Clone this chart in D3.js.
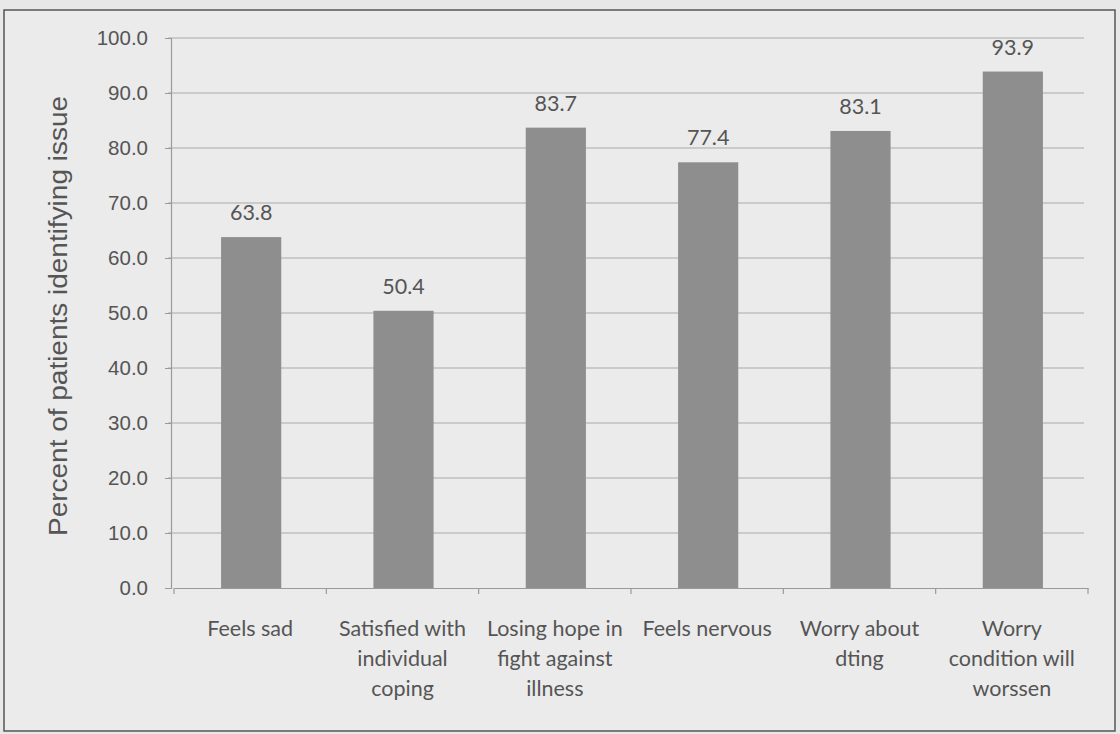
<!DOCTYPE html>
<html>
<head>
<meta charset="utf-8">
<script src="https://cdn.jsdelivr.net/npm/d3@7"></script>
<style>
  html, body { margin: 0; padding: 0; background: #e8e8e8; }
  svg { display: block; }
</style>
</head>
<body>
<svg id="chart"></svg>
<script>
const categories = [
  ["Feels sad"],
  ["Satisfied with", "individual", "coping"],
  ["Losing hope in", "fight against", "illness"],
  ["Feels nervous"],
  ["Worry about", "dting"],
  ["Worry", "condition will", "worssen"]
];
const values = [63.8, 50.4, 83.7, 77.4, 83.1, 93.9];
const yTicks = [0, 10, 20, 30, 40, 50, 60, 70, 80, 90, 100];
const yTitle = "Percent of patients identifying issue";

const width = 1120, height = 734;
const margin = { left: 174, right: 32, top: 38, bottom: 146 };

const svg = d3.select("#chart").attr("width", width).attr("height", height);

// background + frame
svg.append("rect").attr("width", width).attr("height", height).attr("fill", "#e8e8e8");
svg.append("rect")
  .attr("x", 4).attr("y", 10).attr("width", 1111).attr("height", 721)
  .attr("fill", "#ebebeb").attr("stroke", "#555").attr("stroke-width", 1.5);

const x = d3.scaleBand()
  .domain(d3.range(values.length))
  .range([margin.left, width - margin.right])
  .paddingInner(0).paddingOuter(0);

const y = d3.scaleLinear()
  .domain([0, 100])
  .range([height - margin.bottom, margin.top]);

// gridlines
svg.append("g")
  .selectAll("line")
  .data(yTicks.filter(d => d > 0))
  .join("line")
  .attr("x1", margin.left - 6)
  .attr("x2", width - margin.right - 4)
  .attr("y1", d => y(d))
  .attr("y2", d => y(d))
  .attr("stroke", "#a9a9a9")
  .attr("stroke-width", 1.2);

// y axis
const yAxis = svg.append("g")
  .attr("transform", `translate(${margin.left - 3},0)`)
  .call(d3.axisLeft(y).tickValues(yTicks).tickFormat(d3.format(".1f")).tickSize(6).tickPadding(17));
yAxis.select(".domain").attr("stroke", "#9a9a9a").attr("stroke-width", 1.2);
yAxis.selectAll(".tick line").attr("stroke", "#9a9a9a");
yAxis.selectAll("text")
  .attr("font-family", "'Liberation Sans', Arial, sans-serif")
  .attr("font-size", "20.5px")
  .attr("fill", "#555");

// x axis
const xAxis = svg.append("g")
  .attr("transform", `translate(0,${y(0)})`)
  .call(d3.axisBottom(x).tickFormat("").tickSize(0));
xAxis.select(".domain").attr("stroke", "#9a9a9a").attr("stroke-width", 1.2);
svg.append("g")
  .selectAll("line")
  .data(d3.range(values.length + 1))
  .join("line")
  .attr("x1", i => margin.left + i * x.bandwidth())
  .attr("x2", i => margin.left + i * x.bandwidth())
  .attr("y1", y(0))
  .attr("y2", y(0) + 6)
  .attr("stroke", "#9a9a9a")
  .attr("stroke-width", 1.2);

// bars
const barW = x.bandwidth() * 0.395;
svg.append("g")
  .selectAll("rect")
  .data(values)
  .join("rect")
  .attr("x", (d, i) => x(i) + x.bandwidth() / 2 - barW / 2 + 1)
  .attr("y", d => y(d))
  .attr("width", barW)
  .attr("height", d => y(0) - y(d))
  .attr("fill", "#8e8e8e");

// value labels
svg.append("g")
  .selectAll("text")
  .data(values)
  .join("text")
  .attr("x", (d, i) => x(i) + x.bandwidth() / 2 + 1)
  .attr("y", d => y(d) - 17)
  .attr("text-anchor", "middle")
  .attr("font-family", "Lato, 'Open Sans', sans-serif")
  .attr("font-size", "21.5px")
  .attr("fill", "#555")
  .text(d => d.toFixed(1));

// category labels
const cat = svg.append("g")
  .selectAll("text")
  .data(categories)
  .join("text")
  .attr("text-anchor", "middle")
  .attr("font-family", "Lato, 'Open Sans', sans-serif")
  .attr("font-size", "21.5px")
  .attr("fill", "#555");
cat.each(function (lines, i) {
  d3.select(this).selectAll("tspan")
    .data(lines)
    .join("tspan")
    .attr("x", x(i) + x.bandwidth() / 2)
    .attr("y", (l, j) => 636 + j * 30)
    .text(l => l);
});

// y title
svg.append("text")
  .attr("transform", `translate(67,${(y(0) + y(100)) / 2 + 3}) rotate(-90)`)
  .attr("text-anchor", "middle")
  .attr("font-family", "'Liberation Sans', Arial, sans-serif")
  .attr("font-size", "25px")
  .attr("textLength", 440)
  .attr("lengthAdjust", "spacingAndGlyphs")
  .attr("fill", "#555")
  .text(yTitle);
</script>
</body>
</html>
